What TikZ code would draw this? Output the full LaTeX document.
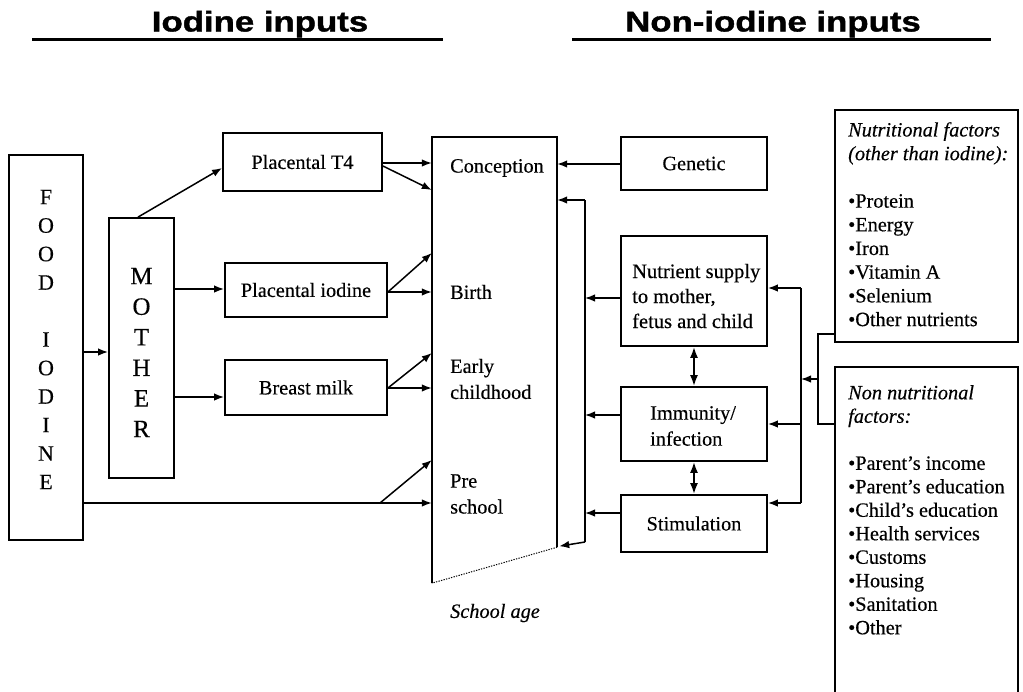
\documentclass[tikz,border=0pt]{standalone}
\usepackage{fontspec}
\setmainfont{Liberation Serif}[FakeBold=0.35]
\newfontfamily\titlefont{Liberation Sans Bold}[FakeBold=1.2]
\usepackage{graphicx}
\usetikzlibrary{arrows.meta,calc}
\newcommand\bodysz{\fontsize{20.3}{26}\selectfont}
\begin{document}
\begin{tikzpicture}[x=1pt,y=-1pt,font=\bodysz,
  box/.style={draw,line width=1.8pt,inner sep=0pt},
  plain/.style={inner sep=0pt},
  arr/.style={line width=1.5pt,-{Latex[length=10pt,width=7.5pt]}},
  dbl/.style={line width=1.8pt,{Latex[length=11pt,width=8pt]}-{Latex[length=11pt,width=8pt]}},
  ln/.style={line width=1.5pt},
  ttl/.style={inner sep=0pt,anchor=base,font=\titlefont\fontsize{28.5}{30}\selectfont},
  uline/.style={line width=3pt}
]
\useasboundingbox (0,0) rectangle (1023,691);

% titles
\node[ttl] (t1) at (260,31.5) {\scalebox{1.22}[1]{Iodine inputs}};
\node[ttl] (t2) at (773,31.5) {\scalebox{1.22}[1]{Non-iodine inputs}};
\draw[uline] (32,39.5) -- (443,39.5);
\draw[uline] (572,39.5) -- (991,39.5);

% left side
\node[box,minimum width=74pt,minimum height=385pt] (food) at (46,347.5) {};
\node[plain,align=center,font=\fontsize{22}{28.5}\selectfont] (foodtxt) at (46,339.5)
  {F\\O\\O\\D\\[28.5pt]I\\O\\D\\I\\N\\E};
\node[box,minimum width=65pt,minimum height=260pt] (mother) at (141.5,348) {};
\node[plain,align=center,font=\fontsize{25}{30.6}\selectfont] (mothertxt) at (141.5,352.5)
  {M\\O\\T\\H\\E\\R};

\node[box,minimum width=159pt,minimum height=58pt] (pt4) at (302.5,162) {Placental T4};
\node[box,minimum width=162pt,minimum height=54pt] (pio) at (306,290) {Placental iodine};
\node[box,minimum width=162pt,minimum height=55pt] (bm) at (306,387.5) {Breast milk};

\draw[arr] (food.east |- 0,352) -- (mother.west |- 0,352);
\draw[arr] ([xshift=-3.5pt]mother.north) -- (pt4.west |- 0,168);
\draw[arr] (mother.east |- 0,289) -- (pio.west |- 0,289);
\draw[arr] (mother.east |- 0,397) -- (bm.west |- 0,397);

% central column
\node[plain,minimum width=125pt,minimum height=410pt] (col) at (494.5,342) {};
\draw[ln] ([yshift=-36pt]col.south west) -- (col.north west) -- (col.north east) -- (col.south east);
\draw[line width=1pt,dash pattern=on 1.3pt off 1.3pt] (col.south east) -- ([yshift=-36pt]col.south west);

\node[plain,anchor=west] (conc) at (450,168) {Conception};
\node[plain,anchor=west] (birth) at (450,292) {Birth};
\node[plain,anchor=west,align=left] (early) at (450,379) {Early\\childhood};
\node[plain,anchor=west,align=left] (pre) at (450,494) {Pre\\school};
\node[plain,font=\bodysz\itshape] (school) at (495,613) {School age};

\draw[arr] (pt4.east |- 0,163) -- (col.west |- 0,163);
\draw[arr] (pt4.east |- 0,166) -- (col.west |- 0,190);
\draw[arr] (pio.east |- 0,292) -- (col.west |- 0,292);
\draw[arr] (pio.east |- 0,292) -- (col.west |- 0,253);
\draw[arr] (bm.east |- 0,388) -- (col.west |- 0,388);
\draw[arr] (bm.east |- 0,388) -- (col.west |- 0,353);
\coordinate (fork) at (380,503);
\draw[arr] (food.east |- 0,503) -- (col.west |- 0,503);
\draw[arr] (fork) -- (col.west |- 0,460);

% right side
\node[box,minimum width=146pt,minimum height=53pt] (gen) at (694,163.5) {Genetic};
\node[box,minimum width=146pt,minimum height=110pt] (nut) at (694,291) {};
\node[plain,anchor=west,align=left,font=\fontsize{20.5}{25}\selectfont] (nuttxt) at (632,296)
  {Nutrient supply\\to mother,\\fetus and child};
\node[box,minimum width=146pt,minimum height=74pt] (imm) at (694,424) {};
\node[plain,anchor=west,align=left] (immtxt) at (650,426) {Immunity/\\infection};
\node[box,minimum width=146pt,minimum height=57pt] (stim) at (694,523.5) {Stimulation};

\draw[arr] (gen.west |- 0,164) -- (col.east |- 0,164);

\coordinate (fbT) at (585,200);
\coordinate (fbB) at (585,542);
\draw[ln] (fbT) -- (fbB);
\draw[arr] (fbT) -- (col.east |- fbT);
\draw[arr] (fbB) -- ($(col.south east)+(2,-1)$);
\draw[arr] (nut.west |- 0,298) -- (fbT |- 0,298);
\draw[arr] (imm.west |- 0,415) -- (fbT |- 0,415);
\draw[arr] (stim.west |- 0,513) -- (fbT |- 0,513);

\draw[dbl] (nut.south) -- (imm.north);
\draw[dbl] (imm.south) -- (stim.north);

\coordinate (b2T) at (801,288);
\coordinate (b2B) at (801,503);
\draw[ln] (b2T) -- (b2B);
\draw[arr] (b2T) -- (nut.east |- b2T);
\draw[arr] (b2T |- imm) -- (imm.east);
\draw[arr] (b2B) -- (stim.east |- b2B);

% factor boxes
\node[box,minimum width=183pt,minimum height=232pt] (nf) at (926.5,226) {};
\node[box,minimum width=183pt,minimum height=330pt] (nn) at (926.5,532) {};
\node[plain,anchor=north west,align=left,font=\fontsize{20.3}{23.7}\selectfont] (nftxt) at (848,122)
  {\textit{Nutritional factors}\\\textit{(other than iodine):}\\[23.7pt]
   •Protein\\•Energy\\•Iron\\•Vitamin A\\•Selenium\\•Other nutrients};
\node[plain,anchor=north west,align=left,font=\fontsize{20.3}{23.5}\selectfont] (nntxt) at (848,385)
  {\textit{Non nutritional}\\\textit{factors:}\\[23.5pt]
   •Parent’s income\\•Parent’s education\\•Child’s education\\•Health services\\
   •Customs\\•Housing\\•Sanitation\\•Other};

\coordinate (fb3) at (818,379);
\draw[ln] (nf.west |- 0,334) -| (fb3) |- (nn.west |- 0,424);
\draw[arr] (fb3) -- (b2T |- fb3);
\end{tikzpicture}
\end{document}
